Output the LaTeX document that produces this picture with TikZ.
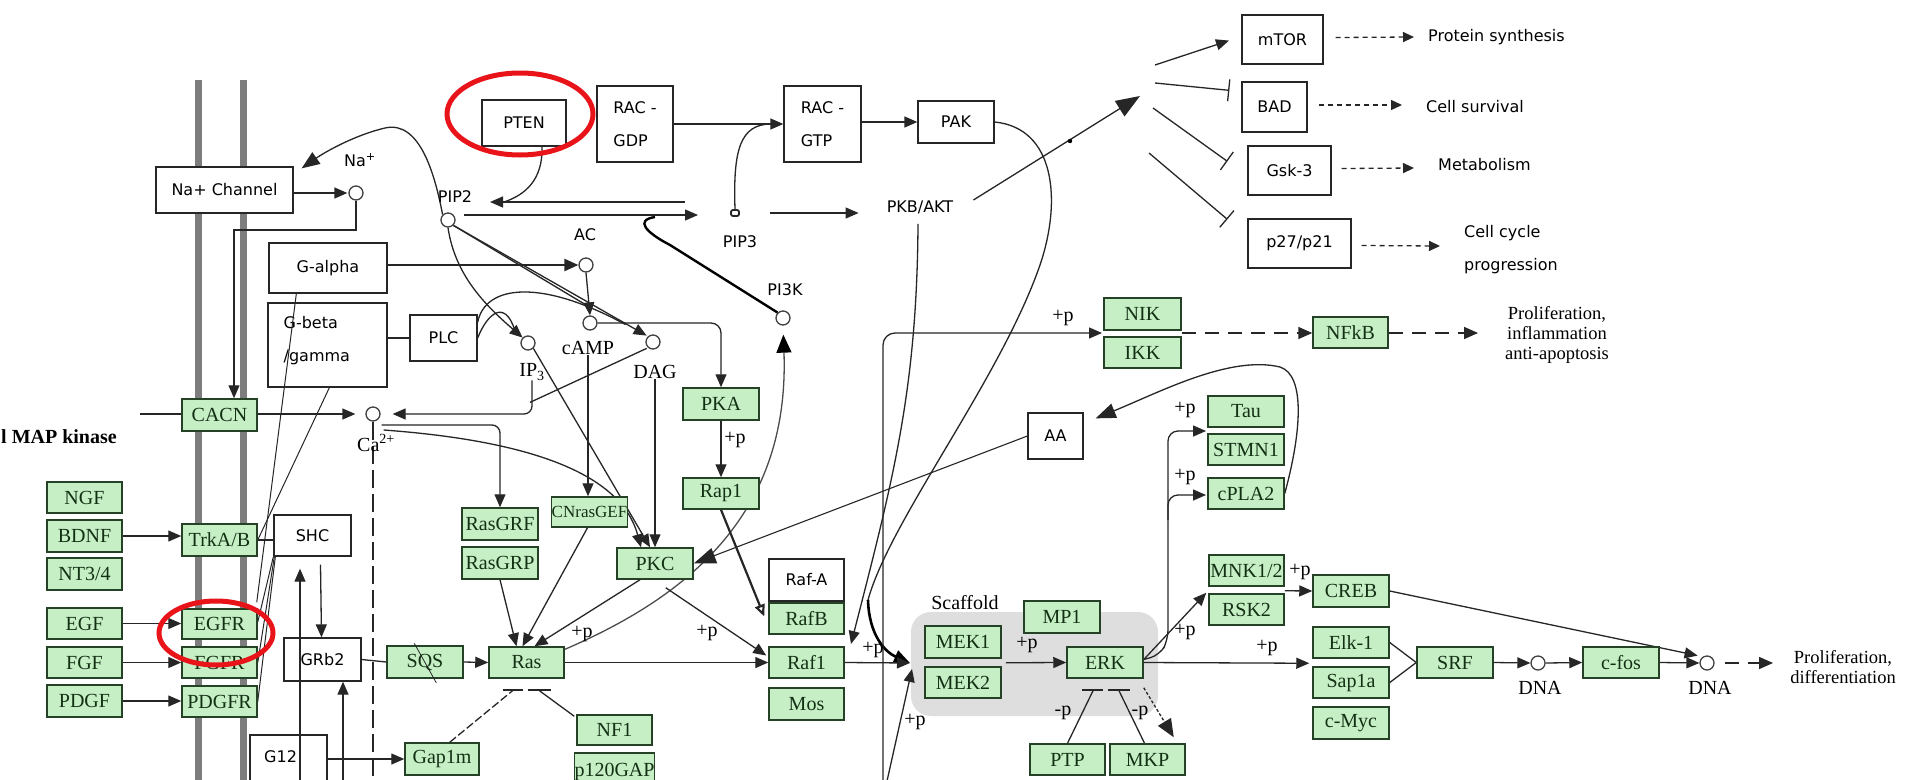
\documentclass[tikz,border=0pt]{standalone}
\usepackage{fontspec}
\setmainfont{Liberation Serif}
\newfontfamily\uisans{DejaVu Sans}
\usetikzlibrary{arrows.meta,calc}
\pgfdeclarelayer{bg}
\pgfdeclarelayer{edges}
\pgfsetlayers{bg,edges,main}
\definecolor{gfill}{RGB}{198,239,198}
\definecolor{gline}{RGB}{38,66,38}
\definecolor{gtext}{RGB}{20,48,20}
\definecolor{membrane}{RGB}{125,125,125}
\definecolor{scaf}{RGB}{222,222,222}
\definecolor{markred}{RGB}{232,20,26}
% box from corner (x1,y1) to (x2,y2): style, name, x1, y1, x2, y2, text
\newcommand\PBox[7]{\node[#1, minimum width={(#5-#3)*1pt}, minimum height={(#6-#4)*1pt}] (#2) at ({(#3+#5)/2},{(#4+#6)/2}) {#7};}
\begin{document}
\begin{tikzpicture}[x=1pt, y=-1pt,
  gbox/.style={draw=gline, fill=gfill, line width=1.5pt, inner sep=0pt, text=gtext, font=\fontsize{20}{22}\selectfont},
  wbox/.style={draw=black!85, fill=white, line width=1.3pt, inner sep=0pt, align=left, font=\uisans\fontsize{16}{33}\selectfont},
  cmpd/.style={circle, draw=black!75, fill=white, line width=1.3pt, minimum size=14pt, inner sep=0pt},
  lbl/.style={inner sep=0pt, font=\fontsize{20}{22}\selectfont},
  slbl/.style={inner sep=0pt, font=\uisans\fontsize{16}{20}\selectfont},
  olbl/.style={inner sep=0pt, align=center, font=\fontsize{18.5}{20}\selectfont},
  con/.style={line width=1.3pt, draw=black!85},
  act/.style={con, -{Triangle[length=13pt,width=11pt]}},
  inh/.style={con, -{Bar[width=22pt]}},
  dashout/.style={con, dash pattern=on 5pt off 4pt, -{Triangle[length=11pt,width=10pt]}},
  longdash/.style={line width=1.6pt, draw=black!85, dash pattern=on 14pt off 9pt, -{Triangle[length=14pt,width=12pt]}},
  bar/.style={line width=1.8pt, draw=black!85},
]
\useasboundingbox (0,0) rectangle (1905,779);

\begin{pgfonlayer}{bg}
  \fill[white] (0,0) rectangle (1905,779);
  % cell membrane
  \fill[membrane] (195,80) rectangle (202,790);
  \fill[membrane] (240,80) rectangle (247,790);
  % MAPK scaffold
  \fill[scaf, rounded corners=20pt] (911,612) rectangle (1158,716);
\end{pgfonlayer}

% ---------- white boxes ----------
\PBox{wbox}{NaCh}{156}{167}{293}{213}{Na+ Channel}
\PBox{wbox}{PTEN}{482}{100}{566}{146}{PTEN}
\PBox{wbox}{RACGDP}{597}{86}{673}{162}{RAC -\\GDP}
\PBox{wbox}{RACGTP}{784}{86}{861}{162}{RAC -\\GTP}
\PBox{wbox}{PAK}{918}{101}{994}{143}{PAK}
\PBox{wbox}{Galpha}{269}{243}{387}{293}{G-alpha}
\PBox{wbox}{Gbg}{268}{303}{387}{387}{}
\node[wbox, draw=none, fill=none, anchor=west] at (283,341) {G-beta\\/gamma};
\PBox{wbox}{PLC}{410}{315}{477}{361}{PLC}
\PBox{wbox}{SHC}{274}{515}{351}{556}{SHC}
\PBox{wbox}{GRb2}{284}{638}{361}{681}{GRb2}
\PBox{wbox}{G12}{250}{735}{327}{790}{}
\node[slbl, anchor=west] at (264,757) {G12};
\PBox{wbox}{RafA}{769}{559}{844}{601}{Raf-A}
\PBox{wbox}{AA}{1028}{413}{1083}{459}{AA}
\PBox{wbox}{mTOR}{1242}{15}{1323}{64}{mTOR}
\PBox{wbox}{BAD}{1242}{82}{1307}{132}{BAD}
\PBox{wbox}{Gsk3}{1248}{146}{1331}{195}{Gsk-3}
\PBox{wbox}{p27}{1248}{219}{1351}{268}{p27/p21}

% ---------- gene products ----------
\PBox{gbox}{NGF}{47}{482}{122}{513}{NGF}
\PBox{gbox}{BDNF}{47}{520}{122}{552}{BDNF}
\PBox{gbox}{NT34}{47}{558}{122}{590}{NT3/4}
\PBox{gbox}{EGF}{47}{608}{122}{639}{EGF}
\PBox{gbox}{FGF}{47}{647}{122}{678}{FGF}
\PBox{gbox}{PDGF}{47}{685}{122}{717}{PDGF}
\PBox{gbox}{CACN}{182}{399}{257}{431}{CACN}
\PBox{gbox}{TrkAB}{182}{524}{257}{556}{TrkA/B}
\PBox{gbox}{EGFR}{182}{609}{257}{639}{EGFR}
\PBox{gbox}{FGFR}{182}{647}{257}{678}{FGFR}
\PBox{gbox}{PDGFR}{182}{686}{257}{717}{PDGFR}
\PBox{gbox}{SQS}{387}{646}{463}{678}{SQS}
\PBox{gbox}{Gap1m}{405}{743}{479}{775}{Gap1m}
\PBox{gbox}{RasGRF}{462}{508}{538}{540}{RasGRF}
\PBox{gbox}{RasGRP}{462}{547}{538}{579}{RasGRP}
\PBox{gbox}{CNrasGEF}{552}{497}{627}{527}{\fontsize{17}{20}\selectfont CNrasGEF}
\PBox{gbox}{PKC}{617}{548}{693}{579}{PKC}
\PBox{gbox}{Ras}{489}{647}{564}{678}{Ras}
\PBox{gbox}{NF1}{577}{715}{652}{745}{NF1}
\PBox{gbox}{p120GAP}{577}{753}{652}{790}{p120GAP}
\PBox{gbox}{PKA}{683}{388}{759}{420}{PKA}
\PBox{gbox}{Rap1}{683}{478}{759}{509}{Rap1}
\PBox{gbox}{RafB}{769}{603}{844}{634}{RafB}
\PBox{gbox}{Raf1}{769}{647}{844}{678}{Raf1}
\PBox{gbox}{Mos}{769}{688}{844}{720}{Mos}
\PBox{gbox}{MEK1}{925}{626}{1001}{658}{MEK1}
\PBox{gbox}{MEK2}{925}{667}{1001}{698}{MEK2}
\PBox{gbox}{MP1}{1024}{601}{1100}{633}{MP1}
\PBox{gbox}{ERK}{1067}{647}{1143}{678}{ERK}
\PBox{gbox}{PTP}{1030}{744}{1105}{775}{PTP}
\PBox{gbox}{MKP}{1110}{744}{1185}{775}{MKP}
\PBox{gbox}{NIK}{1104}{298}{1181}{330}{NIK}
\PBox{gbox}{IKK}{1104}{337}{1181}{368}{IKK}
\PBox{gbox}{NFkB}{1313}{317}{1388}{348}{NFkB}
\PBox{gbox}{Tau}{1208}{396}{1284}{427}{Tau}
\PBox{gbox}{STMN1}{1208}{434}{1284}{465}{STMN1}
\PBox{gbox}{cPLA2}{1208}{478}{1284}{509}{cPLA2}
\PBox{gbox}{MNK}{1209}{555}{1284}{586}{MNK1/2}
\PBox{gbox}{RSK2}{1209}{594}{1284}{625}{RSK2}
\PBox{gbox}{CREB}{1313}{575}{1389}{607}{CREB}
\PBox{gbox}{Elk1}{1313}{627}{1389}{658}{Elk-1}
\PBox{gbox}{Sap1a}{1313}{667}{1389}{698}{Sap1a}
\PBox{gbox}{cMyc}{1313}{707}{1389}{739}{c-Myc}
\PBox{gbox}{SRF}{1417}{647}{1493}{678}{SRF}
\PBox{gbox}{cfos}{1583}{647}{1659}{678}{c-fos}

% ---------- small compounds ----------
\node[cmpd] (Na) at (356,193) {};
\node[cmpd] (PIP2) at (448,220) {};
\node[draw=black!85, fill=white, line width=1.8pt, rounded corners=2pt, minimum width=8pt, minimum height=6pt, inner sep=0pt] (PIP3) at (735,213) {};
\node[cmpd] (AC) at (586,265) {};
\node[cmpd] (cAMP) at (590,323) {};
\node[cmpd] (IP3) at (528,343) {};
\node[cmpd] (DAG) at (653,342) {};
\node[cmpd] (PI3K) at (783,318) {};
\node[cmpd] (Ca) at (373,414) {};
\node[cmpd] (DNA1) at (1538,663) {};
\node[cmpd] (DNA2) at (1707,663) {};

% ---------- labels ----------
\node[slbl] (nalab) at (360,160) {Na\textsuperscript{+}};
\node[slbl] (pip2lab) at (455,197) {PIP2};
\node[slbl] (pip3lab) at (740,242) {PIP3};
\node[slbl] (aclab) at (585,235) {AC};
\node[lbl] (camplab) at (588,348) {cAMP};
\node[lbl] (ip3lab) at (532,372) {IP\textsubscript{3}};
\node[lbl] (daglab) at (655,372) {DAG};
\node[slbl] (pi3klab) at (785,290) {PI3K};
\node[lbl] (calab) at (376,443) {Ca\textsuperscript{2+}};
\node[slbl] (PKB) at (920,207) {PKB/AKT};
\node[lbl] (scaflab) at (965,603) {Scaffold};
\node[lbl] (dnalab1) at (1540,688) {DNA};
\node[lbl] (dnalab2) at (1710,688) {DNA};
\node[anchor=west, inner sep=0pt, font=\bfseries\fontsize{20}{22}\selectfont] (maplab) at (1,437) {l MAP kinase};

\node[slbl, anchor=west] (psyn) at (1428,37) {Protein synthesis};
\node[slbl, anchor=west] (csurv) at (1426,107) {Cell survival};
\node[slbl, anchor=west] (metab) at (1438,165) {Metabolism};
\node[slbl, anchor=west, align=left, font=\uisans\fontsize{16}{33}\selectfont] (ccyc) at (1464,250) {Cell cycle\\progression};
\node[olbl] (prolif1) at (1557,335) {Proliferation,\\inflammation\\anti-apoptosis};
\node[olbl] (prolif2) at (1843,667) {Proliferation,\\differentiation};

\foreach \px/\py in {1063/318, 1185/410, 1185/477, 735/440, 582/634, 707/633, 873/650, 915/722, 1027/645, 1185/632, 1267/648, 1300/572}
  \node[lbl] at (\px,\py) {+p};
\node[lbl] at (1063,713) {-p};
\node[lbl] at (1140,713) {-p};

% ---------- named free ends ----------
\coordinate (nabend) at (234,230);
\coordinate (mapin) at (140,414);
\coordinate (pip3in) at (698,215);
\coordinate (pip3back) at (685,202);
\coordinate (pip2back) at (490,202);
\coordinate (akthub) at (1140,96);
\coordinate (nikfoot) at (883,790);
\coordinate (nikin) at (1102,333);
\coordinate (nfkbout) at (1478,333);
\coordinate (tauin) at (1206,431);
\coordinate (cplain) at (1206,495);
\coordinate (mekin) at (910,663);
\coordinate (mekfoot) at (885,790);
\coordinate (raf1pin) at (851,644);
\coordinate (pakbend) at (868,600);
\coordinate (up1foot) at (300,790);
\coordinate (up2foot) at (343,790);
\coordinate (cctip) at (1440,246);
\coordinate (dnaout) at (1773,663);

\begin{pgfonlayer}{edges}
  % Na+ channel and calcium entry
  \draw[act, shorten >=1pt] (NaCh.east |- Na) -- (Na.west);
  \draw[con, -{Triangle[length=18pt,width=14pt]}] (PIP2.north west) .. controls (435,175) and (420,120) .. (385,128) .. controls (355,135) and (325,152) .. ($(NaCh.north east)+(8,2)$);
  \draw[act] (Na.south) |- (nabend) -- (nabend |- CACN.north);
  \draw[con] (mapin) -- (CACN.west |- mapin);
  \draw[act, shorten >=10pt] (CACN.east |- Ca) -- (Ca.west);
  \draw[act, rounded corners=8pt, shorten >=12pt] (ip3lab.south) |- (Ca.east);
  \draw[con] ($(DAG.south west)+(-1,1)$) -- ($(ip3lab.south)+(-2,22)$);
  \draw[act, rounded corners=8pt] ($(Ca.east)+(1,11)$) -| (RasGRF.north);
  \draw[act] ($(Ca.east)+(3,16)$) .. controls (520,440) and (620,470) .. ($(PKC.north)+(-14,0)$);
  \draw[con, dash pattern=on 18pt off 6pt] (Ca.south) -- (Ca.south |- up1foot);

  % second messengers
  \draw[con, line width=2.4pt, -{Triangle[length=14pt,width=12pt]}] (Galpha.east |- AC) -- (AC.west);
  \draw[act] (AC.south) -- (cAMP.north);
  \draw[con] (Gbg.east |- PLC) -- (PLC.west);
  \draw[act] (PIP2.south east) -- ($(DAG.north west)+(-1,-1)$);
  \draw[con] (PIP2.south east) -- ($(cAMP.north)+(0,-8)$);
  \draw[act] (PIP2.south) .. controls (455,275) and (485,305) .. (IP3.north west);
  \draw[con] (PLC.east) .. controls (488,312) and (505,300) .. ($(IP3.north west)+(-8,-8)$);
  \draw[con] ($(PLC.north east)+(0,8)$) .. controls (485,285) and (540,278) .. ($(DAG.north west)+(-22,-12)$);
  \draw[act] (daglab.south) -- (daglab.south |- PKC.north);
  \draw[act] (IP3.south east) -- ($(PKC.north)+(-5,0)$);
  \draw[act] (camplab.south) -- (camplab.south |- CNrasGEF.north);
  \draw[act, rounded corners=10pt] (cAMP.east) -| (PKA.north);
  \draw[act] (PKA.south) -- (Rap1.north);

  % PI3K / AKT branch
  \draw[act] ($(PIP2.east)+(8,-5)$) -- (pip3in);
  \draw[act] (pip3back) -- (pip2back);
  \draw[con] ($(PTEN.south)+(18,0)$) .. controls (543,180) and (525,195) .. ($(pip2back)+(14,0)$);
  \draw[act] (RACGDP.east) -- (RACGTP.west);
  \draw[con] (PIP3.north) .. controls (733,150) and (740,124) .. ($(RACGTP.west)+(-12,0)$);
  \draw[act] (RACGTP.east |- PAK) -- (PAK.west);
  \draw[act, shorten <=30pt, shorten >=28pt] (PIP3) -- (PKB.west |- PIP3);
  \draw[line width=2.4pt] (PI3K.north west) -- (670,245) .. controls (645,232) and (635,220) .. (655,217);
  \draw[con, draw=black!70, -{Triangle[length=18pt,width=15pt,fill=black,color=black]}, shorten >=9pt] ($(Ras.north east)+(-2,4)$) .. controls (680,600) and (790,520) .. (PI3K.south);
  \draw[con, -{Triangle[length=24pt,width=18pt]}] ($(PKB.east)+(20,-7)$) -- (akthub);
  \fill (1070,141) circle (2.2pt);
  \draw[act, shorten >=13pt] ($(akthub)+(15,-31)$) -- ($(mTOR.west)+(0,-3)$);
  \draw[inh] ($(akthub)+(15,-13)$) -- ($(BAD.north west)+(-12,9)$);
  \draw[inh] ($(akthub)+(13,12)$) -- ($(Gsk3.north west)+(-20,16)$);
  \draw[inh] ($(akthub)+(9,57)$) -- ($(p27.north west)+(-20,1)$);
  \draw[dashout] ($(mTOR.east)+(12,-2)$) -- ($(psyn.west)+(-14,0)$);
  \draw[dashout] ($(BAD.east)+(11,-2)$) -- ($(csurv.west)+(-24,-2)$);
  \draw[dashout] ($(Gsk3.east)+(10,-2)$) -- ($(metab.west)+(-24,3)$);
  \draw[dashout] ($(p27.east)+(10,2)$) -- (cctip);
  \draw[act] ($(PKB.south)+(-2,10)$) .. controls (917,390) and (893,480) .. (raf1pin);
  \draw[con] (PAK.east) .. controls (1055,128) and (1062,200) .. (1040,265) .. controls (1000,380) and (890,520) .. (pakbend);
  \draw[line width=2.6pt, -{Triangle[length=16pt,width=13pt]}] (pakbend) .. controls (869,635) and (885,652) .. (mekin);

  % NF-kB branch
  \draw[act, rounded corners=12pt] (nikfoot) |- (nikin);
  \draw[longdash] (NIK.south east |- nikin) -- (NFkB.west |- nikin);
  \draw[longdash] (NFkB.east |- nikin) -- (nfkbout);

  % PKC / AA
  \draw[act, rounded corners=10pt] ($(ERK.east)+(0,-3)$) -- (1160,655) -- (1168,640) |- (tauin);
  \draw[act, rounded corners=10pt] (1168,520) |- (cplain);
  \draw[con, -{Triangle[length=20pt,width=15pt]}] (cPLA2.east) .. controls (1302,430) and (1305,375) .. (1280,367) .. controls (1230,355) and (1160,392) .. ($(AA.north east)+(12,6)$);
  \draw[con, line width=1.1pt, -{Triangle[length=22pt,width=16pt]}] (AA.west) -- (PKC.east);

  % Ras / Raf
  \draw[act] (RasGRP.south) -- ($(Ras.north)+(-10,0)$);
  \draw[act] ($(CNrasGEF.south)+(-2,0)$) -- ($(Ras.north)+(-4,0)$);
  \draw[act] ($(PKC.south)+(-15,0)$) -- ($(Ras.north)+(8,0)$);
  \draw[con, line width=2.2pt, -{Triangle[open, length=12pt, width=10pt]}] (Rap1.south) -- ($(RafB.west)+(-4,-2)$);
  \draw[act] ($(PKC.south east)+(-28,8)$) -- ($(Raf1.west)+(-2,-7)$);
  \draw[act] (Ras.east) -- (Raf1.west);
  \draw[act] (Raf1.east) -- (mekin);
  \draw[act] (mekfoot) -- ($(mekin)+(2,6)$);
  \draw[con] (GRb2.east) -- (SQS.west);
  \draw[act] (SQS.east) -- (Ras.west);
  \draw[act] ($(SHC.south)+(8,8)$) -- ($(GRb2.north)+(-1,0)$);
  \draw[act] (up2foot) -- (up2foot |- GRb2.south);
  \draw[act] (G12.east |- Gap1m) -- (Gap1m.west);
  \draw[bar] ($(Ras.south)+(-24,11)$) -- ($(Ras.south)+(-4,11)$);
  \draw[bar] ($(Ras.south)+(1,11)$) -- ($(Ras.south)+(24,11)$);
  \draw[con, dash pattern=on 8pt off 3pt] ($(Gap1m.north east)+(-30,0)$) -- ($(Ras.south)+(-14,12)$);
  \draw[con] ($(NF1.north west)+(-2,2)$) -- ($(Ras.south)+(13,12)$);

  % receptors
  \draw[act] (BDNF.east) -- (TrkAB.west |- BDNF);
  \draw[act] (EGF.east) -- (EGFR.west |- EGF);
  \draw[act] (FGF.east) -- (FGFR.west |- FGF);
  \draw[act] (PDGF.east) -- (PDGFR.west |- PDGF);
  \draw[con] (TrkAB.east) -- (TrkAB.east -| SHC.west);
  \draw[con, line width=1pt] (SHC.south west) -- ($(EGFR.east)+(0,-2)$);
  \draw[con, line width=1pt] ($(SHC.south west)+(1,0)$) -- (FGFR.east);
  \draw[con, line width=1pt] ($(SHC.south west)+(2,0)$) -- (PDGFR.east);
  \draw[con, line width=1pt] ($(Gbg.south west)+(62,0)$) -- (TrkAB.east);

  % ERK targets
  \draw[act] ($(MEK1.south east)+(4,4)$) -- (ERK.west);
  \draw[act] (ERK.east) -- ($(Elk1.south west)+(-3,4.5)$);
  \draw[act] ($(ERK.east)+(0,-3)$) -- ($(MNK.south west)+(-2,6)$);
  \draw[act] ($(MNK.south east)+(0,4)$) -- (CREB.west);
  \draw[bar] ($(ERK.south)+(-23,11)$) -- ($(ERK.south)+(-2,11)$);
  \draw[bar] ($(ERK.south)+(3,11)$) -- ($(ERK.south)+(25,11)$);
  \draw[con] (PTP.north) -- ($(ERK.south)+(-12,12)$);
  \draw[con] ($(MKP.north)+(-3,0)$) -- ($(ERK.south)+(14,12)$);
  \draw[con, dash pattern=on 3pt off 2pt, -{Triangle[length=18pt,width=15pt]}] ($(ERK.south east)+(0,9)$) -- ($(MKP.north east)+(-12,-6)$);
  \draw[con] (Elk1.east) -- (SRF.west);
  \draw[con] (Sap1a.east) -- (SRF.west);
  \draw[act] (SRF.east) -- (DNA1.west);
  \draw[act] (DNA1.east) -- (cfos.west);
  \draw[act] (cfos.east) -- (DNA2.west);
  \draw[act] (CREB.east) -- ($(DNA2.north west)+(-4,-2)$);
  \draw[longdash] ($(DNA2.east)+(10,0)$) -- (dnaout);
\end{pgfonlayer}

% connectors running across boxes
\draw[con, line width=1pt] ($(Galpha.south west)+(28,0)$) -- ($(EGFR.north east)+(-1,-6)$);
\draw[act] (up1foot) -- ($(SHC.south)+(-12.5,12)$);
\draw[con, line width=0.8pt] ($(SQS.north west)+(28,-2)$) -- ($(SQS.south west)+(50,4)$);

% highlight rings
\draw[markred, line width=5pt] (520,114) ellipse [x radius=73pt, y radius=41pt];
\draw[markred, line width=5pt] (216,633) ellipse [x radius=57pt, y radius=32pt];
\end{tikzpicture}
\end{document}
